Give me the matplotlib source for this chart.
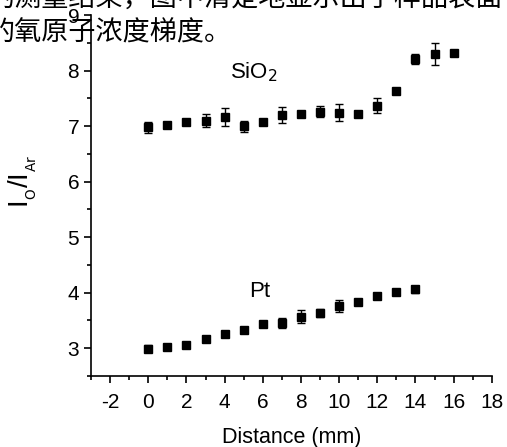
import matplotlib
matplotlib.use('Agg')
import matplotlib.pyplot as plt
import numpy as np
from matplotlib.ticker import MultipleLocator

# data
distance_sio2 = [0, 1, 2, 3, 4, 5, 6, 7, 8, 9, 10, 11, 12, 13, 14, 15, 16]
ratio_sio2 = [6.98, 7.02, 7.08, 7.10, 7.17, 7.00, 7.08, 7.20, 7.21, 7.26, 7.24, 7.21, 7.37, 7.63, 8.20, 8.30, 8.32]
err_sio2 = [0.10, 0.03, 0.04, 0.11, 0.16, 0.10, 0.03, 0.14, 0.04, 0.10, 0.15, 0.03, 0.13, 0.03, 0.09, 0.20, 0.04]

distance_pt = [0, 1, 2, 3, 4, 5, 6, 7, 8, 9, 10, 11, 12, 13, 14]
ratio_pt = [2.99, 3.02, 3.05, 3.17, 3.25, 3.32, 3.43, 3.45, 3.57, 3.63, 3.76, 3.83, 3.94, 4.01, 4.06]
err_pt = [0.06, 0.05, 0.05, 0.05, 0.05, 0.05, 0.05, 0.09, 0.11, 0.07, 0.10, 0.05, 0.05, 0.05, 0.06]

line1 = "的测量结果，图中清楚地显示出了样品表面"
line2 = "的氧原子浓度梯度。"

plt.rcParams['font.family'] = ['Liberation Sans', 'DejaVu Sans']
plt.rcParams['axes.unicode_minus'] = False

fig = plt.figure(figsize=(5.07, 4.47), dpi=100)
ax = fig.add_axes([0.1795, 0.1588, 0.7905, 0.8076])

ax.errorbar(distance_sio2, ratio_sio2, yerr=err_sio2, fmt='s', color='black',
            markersize=6, capsize=3, elinewidth=1, capthick=1)
ax.errorbar(distance_pt, ratio_pt, yerr=err_pt, fmt='s', color='black',
            markersize=6, capsize=3, elinewidth=1, capthick=1)

ax.set_xlim(-3, 18)
ax.set_ylim(2.5, 9)
ax.xaxis.set_major_locator(MultipleLocator(2))
ax.xaxis.set_minor_locator(MultipleLocator(1))
ax.yaxis.set_major_locator(MultipleLocator(1))
ax.yaxis.set_minor_locator(MultipleLocator(0.5))

for s in ['top', 'right']:
    ax.spines[s].set_visible(False)
for s in ['left', 'bottom']:
    ax.spines[s].set_linewidth(1.2)

ax.tick_params(which='major', direction='out', length=5, width=1.2, labelsize=15)
ax.tick_params(axis='x', which='major', pad=7)
ax.tick_params(which='minor', direction='out', length=3, width=1.2)

ax.set_xlabel('Distance (mm)', fontsize=15.5, labelpad=11)
ax.set_ylabel('I$_\\mathrm{_O}$/I$_\\mathrm{_{Ar}}$', fontsize=20)
ax.yaxis.set_label_coords(-0.13, 0.54)

ax.text(4.3, 7.97, 'SiO$_\\mathrm{2}$', fontsize=16, va='center')
ax.text(5.3, 4.03, 'Pt', fontsize=16, va='center')

cjk = ['Noto Sans CJK SC', 'DejaVu Sans']
fig.text(-0.025, 1.005, line1, family=cjk, fontsize=19.5, va='center', ha='left')
fig.text(-0.025, 0.926, line2, family=cjk, fontsize=19.5, va='center', ha='left')

fig.savefig('out.png', dpi=100)
